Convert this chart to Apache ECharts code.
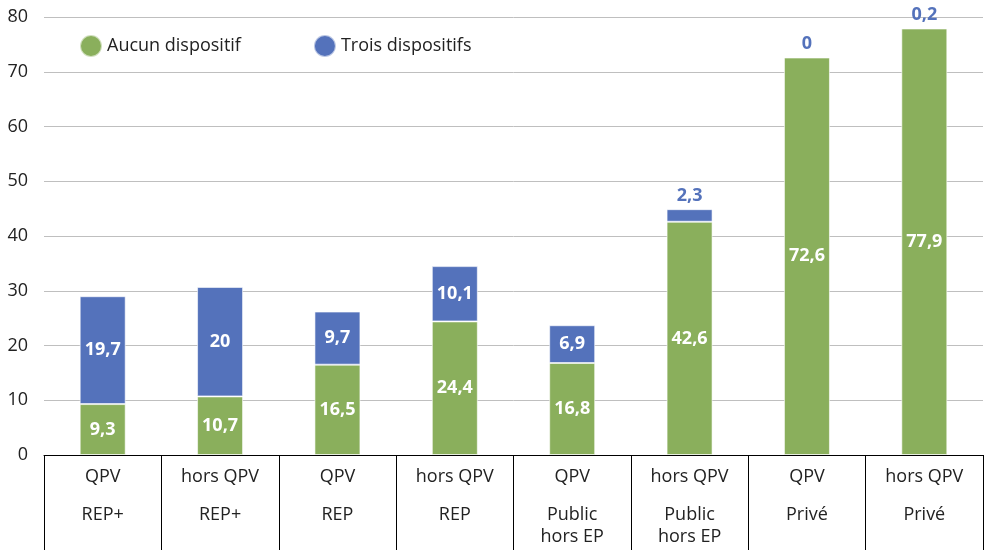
<!DOCTYPE html>
<html lang="fr">
<head>
    <meta charset="utf-8">
    <title>Aucun dispositif / Trois dispositifs</title>
    <script src="https://cdn.jsdelivr.net/npm/echarts@6/dist/echarts.min.js"></script>
</head>
<body style="margin:0;background:#fff;">
    <div id="main" style="width:985px;height:550px;"></div>
    <script type="text/javascript">
    // données
    var zone = ['QPV', 'hors QPV', 'QPV', 'hors QPV', 'QPV', 'hors QPV', 'QPV', 'hors QPV'];
    var secteur = ['REP+', 'REP+', 'REP', 'REP', 'Public\nhors EP', 'Public\nhors EP', 'Privé', 'Privé'];
    var aucun = [9.3, 10.7, 16.5, 24.4, 16.8, 42.6, 72.6, 77.9];
    var trois = [19.7, 20, 9.7, 10.1, 6.9, 2.3, 0, 0.2];
    var yTicks = [0, 10, 20, 30, 40, 50, 60, 70, 80];

    var GREEN = '#8aaf5c', BLUE = '#5472bb';
    var FONT = 'Open Sans';
    var fmt = function (v) { return String(v).replace('.', ','); };

    var categories = zone.map(function (z, i) { return i; });

    // les petites valeurs bleues sont écrites au-dessus de la barre
    var troisData = trois.map(function (v) {
        if (v < 3) {
            return {
                value: v,
                label: { position: 'top', color: BLUE, distance: 4 }
            };
        }
        return v;
    });

    var myChart = echarts.init(document.getElementById('main'));
    myChart.setOption({
        animation: false,
        textStyle: { fontFamily: FONT },
        grid: { left: 44, right: 2, top: 17, bottom: 95, containLabel: false },
        legend: {
            data: ['Aucun dispositif', 'Trois dispositifs'],
            left: 74, top: 29,
            icon: 'circle', itemWidth: 22, itemHeight: 22, itemGap: 72,
            textStyle: { fontFamily: FONT, fontSize: 18, color: '#222' }
        },
        xAxis: {
            type: 'category',
            data: categories,
            axisLine: { lineStyle: { color: '#000', width: 1 } },
            axisTick: { show: true, length: 95, lineStyle: { color: '#000', width: 1 } },
            axisLabel: {
                margin: 11,
                interval: 0,
                formatter: function (v, i) {
                    var lines = secteur[i].split('\n');
                    var s = '{a|' + zone[i] + '}\n{s| }';
                    lines.forEach(function (l) { s += '\n{b|' + l + '}'; });
                    return s;
                },
                rich: {
                    a: { fontFamily: FONT, fontSize: 18, color: '#222', lineHeight: 22 },
                    s: { fontSize: 4, lineHeight: 16 },
                    b: { fontFamily: FONT, fontSize: 18, color: '#222', lineHeight: 22 }
                }
            }
        },
        yAxis: {
            type: 'value',
            min: yTicks[0], max: yTicks[yTicks.length - 1], interval: 10,
            axisLine: { show: false },
            axisTick: { show: false },
            axisLabel: { fontFamily: FONT, fontSize: 18, color: '#222', margin: 16 },
            splitLine: { lineStyle: { color: '#bfbfbf', width: 1 } }
        },
        series: [{
            name: 'Aucun dispositif',
            type: 'bar',
            stack: 'total',
            barWidth: 46,
            data: aucun,
            itemStyle: { color: GREEN, borderColor: 'rgba(255,255,255,0.6)', borderWidth: 1 },
            label: {
                show: true, position: 'inside',
                color: '#fff', fontWeight: 'bold', fontSize: 18, fontFamily: FONT,
                formatter: function (p) { return fmt(p.value); }
            }
        }, {
            name: 'Trois dispositifs',
            type: 'bar',
            stack: 'total',
            barWidth: 46,
            data: troisData,
            itemStyle: { color: BLUE, borderColor: 'rgba(255,255,255,0.6)', borderWidth: 1 },
            label: {
                show: true, position: 'inside',
                color: '#fff', fontWeight: 'bold', fontSize: 18, fontFamily: FONT,
                formatter: function (p) { return fmt(p.value); }
            }
        }]
    });
    </script>
</body>
</html>
